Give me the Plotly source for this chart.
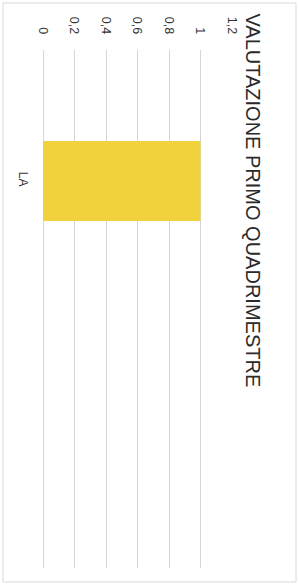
import plotly.graph_objects as go

categories = ["LA"]
values = [1]
tick_vals = [0, 0.2, 0.4, 0.6, 0.8, 1, 1.2]
tick_text = ["0", "0,2", "0,4", "0,6", "0,8", "1", "1,2"]
title_text = "VALUTAZIONE PRIMO QUADRIMESTRE"

W, H = 298, 587
L, R, T, B = 43, 232, 50, 568
pw, ph = R - L, B - T

fig = go.Figure(go.Bar(
    y=categories, x=values, orientation="h", width=0.4,
    marker=dict(color="#F2D23C", line=dict(width=0)),
))

fig.update_layout(
    width=W, height=H,
    margin=dict(l=L, r=W - R, t=T, b=H - B, autoexpand=False),
    paper_bgcolor="white", plot_bgcolor="white",
    showlegend=False,
    font=dict(family="Liberation Sans, Arial, sans-serif", color="#333333", size=12),
    xaxis=dict(
        side="top", range=[0, 1.2], tickvals=tick_vals, ticktext=tick_text,
        tickangle=90, showgrid=True, gridcolor="#d6d6d6", gridwidth=1,
        zeroline=True, zerolinecolor="#d6d6d6", zerolinewidth=1,
        showline=False, ticks="", ticklabelstandoff=13,
        tickfont=dict(size=12.5, color="#333333"), fixedrange=True,
    ),
    yaxis=dict(
        type="category", range=[1.935, -0.655], tickangle=90,
        showgrid=False, zeroline=False, showline=False, ticks="",
        ticklabelstandoff=11, tickfont=dict(size=12, color="#333333"),
        fixedrange=True,
    ),
    annotations=[dict(
        text=title_text, textangle=90, showarrow=False,
        xref="paper", yref="paper",
        x=(253 - L) / pw, y=1 - (200.5 - T) / ph,
        xanchor="center", yanchor="middle",
        font=dict(size=20, color="#2a2a2a"),
    )],
    shapes=[dict(
        type="rect", xref="paper", yref="paper",
        x0=(3 - L) / pw, x1=(296 - L) / pw,
        y0=-(582 - B) / ph, y1=1 + (T - 3) / ph,
        line=dict(color="#d9d9d9", width=1),
    )],
)

fig.write_html(
    "out.html",
    config={"displayModeBar": False},
    post_script="document.body.style.margin='0';document.body.style.overflow='hidden';",
)
